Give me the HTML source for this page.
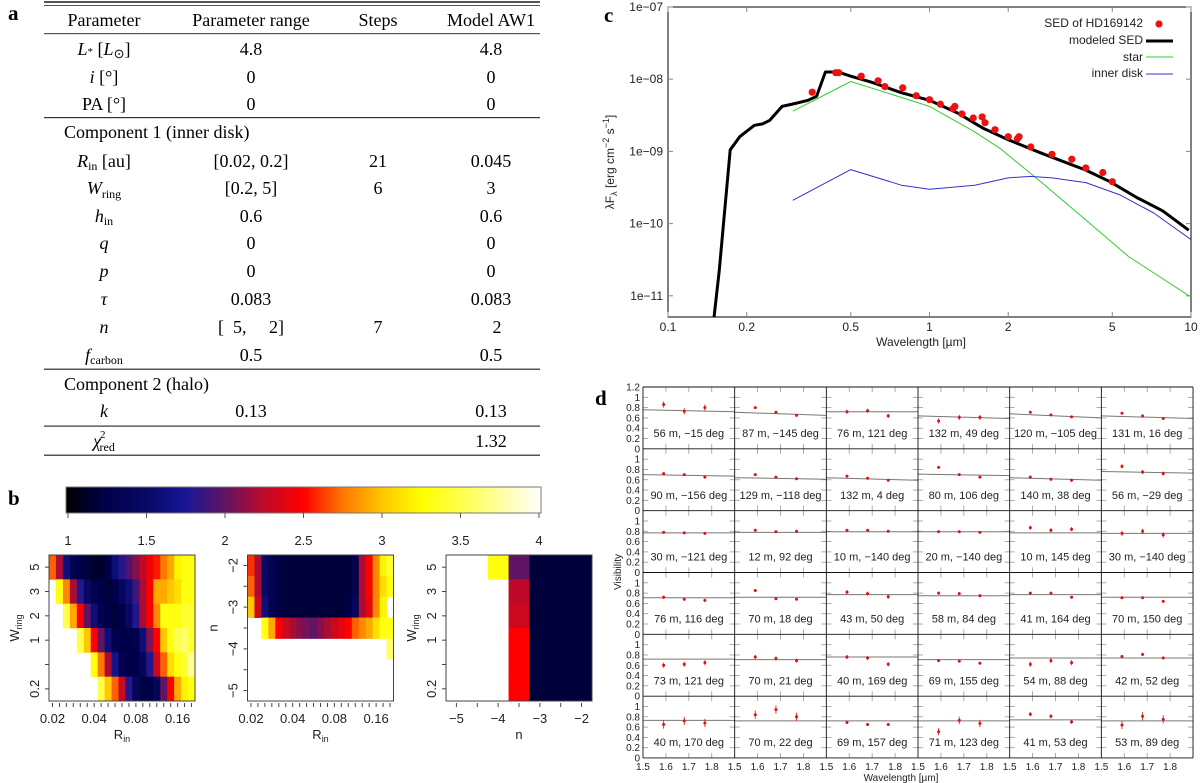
<!DOCTYPE html>
<html><head><meta charset="utf-8">
<style>
html,body{margin:0;padding:0;background:#fff;}
svg{display:block;}
.ser{font-family:"Liberation Serif",serif;}
.san{font-family:"Liberation Sans",sans-serif;}
</style></head>
<body>
<svg id="fig" width="1200" height="783" viewBox="0 0 1200 783" xmlns="http://www.w3.org/2000/svg">
<defs>
<clipPath id="sedclip"><rect x="668" y="7" width="523" height="310"/></clipPath>
</defs>
<g id="table" class="ser" font-size="18" fill="#000" text-anchor="middle">
<text x="8" y="20" font-weight="bold" font-size="21" text-anchor="start">a</text>
<rect x="44" y="1" width="496" height="2" fill="#555"/>
<rect x="44" y="5" width="496" height="1" fill="#555"/>
<rect x="44" y="33" width="496" height="1.2" fill="#555"/>
<rect x="44" y="117" width="496" height="1.2" fill="#333"/>
<rect x="44" y="368.5" width="496" height="1.5" fill="#555"/>
<rect x="44" y="425.5" width="496" height="1.2" fill="#333"/>
<rect x="44" y="454.5" width="496" height="1.5" fill="#555"/>
<g>
<text x="104" y="26">Parameter</text><text x="251" y="26">Parameter range</text><text x="378" y="26">Steps</text><text x="491" y="26">Model AW1</text>
</g>
<g><text x="104" y="55"><tspan font-style="italic">L</tspan><tspan font-size="11">*</tspan> [<tspan font-style="italic">L</tspan><tspan font-size="13" dy="3">⊙</tspan><tspan dy="-3">]</tspan></text><text x="251" y="55">4.8</text><text x="491" y="55">4.8</text></g>
<g><text x="104" y="83"><tspan font-style="italic">i</tspan> [°]</text><text x="251" y="83">0</text><text x="491" y="83">0</text></g>
<g><text x="104" y="110">PA [°]</text><text x="251" y="110">0</text><text x="491" y="110">0</text></g>
<text x="64" y="138" text-anchor="start">Component 1 (inner disk)</text>
<g><text x="104" y="167"><tspan font-style="italic">R</tspan><tspan font-size="12" dy="3">in</tspan><tspan dy="-3"> [au]</tspan></text><text x="251" y="167">[0.02,  0.2]</text><text x="378" y="167">21</text><text x="491" y="167">0.045</text></g>
<g><text x="104" y="194"><tspan font-style="italic">W</tspan><tspan font-size="12" dy="4">ring</tspan></text><text x="251" y="194">[0.2,  5]</text><text x="378" y="194">6</text><text x="491" y="194">3</text></g>
<g><text x="104" y="222"><tspan font-style="italic">h</tspan><tspan font-size="12" dy="3">in</tspan></text><text x="251" y="222">0.6</text><text x="491" y="222">0.6</text></g>
<g><text x="104" y="249" font-style="italic">q</text><text x="251" y="249">0</text><text x="491" y="249">0</text></g>
<g><text x="104" y="277" font-style="italic">p</text><text x="251" y="277">0</text><text x="491" y="277">0</text></g>
<g><text x="104" y="305" font-style="italic">τ</text><text x="251" y="305">0.083</text><text x="491" y="305">0.083</text></g>
<g><text x="104" y="333" font-style="italic">n</text><text x="251" y="333" xml:space="preserve">[  5,     2]</text><text x="378" y="333">7</text><text x="497" y="333">2</text></g>
<g><text x="104" y="361"><tspan font-style="italic">f</tspan><tspan font-size="12" dy="3">carbon</tspan></text><text x="251" y="361">0.5</text><text x="491" y="361">0.5</text></g>
<text x="64" y="390" text-anchor="start">Component 2 (halo)</text>
<g><text x="104" y="417" font-style="italic">k</text><text x="251" y="417">0.13</text><text x="491" y="417">0.13</text></g>
<g><text x="104" y="447"><tspan font-style="italic">χ</tspan><tspan font-size="11" dx="-1" dy="-9">2</tspan><tspan font-size="12" dx="-6" dy="13">red</tspan></text><text x="491" y="447">1.32</text></g>
</g>
<g id="panelB" class="san"></g>
<g id="panelC" class="san"></g>
<g id="panelD" class="san"></g>
</svg>
<script>
// ---------- Panel c data ----------
const sedModelLam = [0.15,0.157,0.173,0.188,0.214,0.23,0.245,0.273,0.306,0.343,0.37,0.40,0.447,0.50,0.60,0.78,1.0,1.28,1.6,2.0,2.71,3.96,4.9,6.2,7.8,9.8];
const sedModelFlux = [5.0e-12,2.2e-11,1.05e-9,1.6e-9,2.3e-9,2.4e-9,2.7e-9,4.2e-9,4.6e-9,5.1e-9,5.8e-9,1.26e-8,1.26e-8,1.1e-8,9.1e-9,6.5e-9,5.1e-9,3.4e-9,2.1e-9,1.45e-9,9.3e-10,5.5e-10,3.8e-10,2.3e-10,1.5e-10,8.1e-11];
const sedStarLam = [0.3,0.5,1.0,1.49,1.86,2.71,3.96,5.77,10];
const sedStarFlux = [3.6e-9,9.3e-9,4.2e-9,1.86e-9,1.1e-9,3.6e-10,1.12e-10,3.5e-11,9.6e-12];
const sedDiskLam = [0.3,0.5,0.78,1.0,1.49,2.0,2.43,2.94,3.96,5.35,7.2,10];
const sedDiskFlux = [2.1e-10,5.6e-10,3.4e-10,3.0e-10,3.4e-10,4.3e-10,4.5e-10,4.3e-10,3.7e-10,2.5e-10,1.4e-10,6.0e-11];
const sedObsLam = [0.356,0.438,0.45,0.548,0.636,0.675,0.79,0.89,1.0,1.1,1.23,1.25,1.33,1.47,1.59,1.63,1.78,2.0,2.17,2.2,2.44,2.94,3.5,3.96,4.6,5.0];
const sedObsFlux = [6.6e-9,1.23e-8,1.23e-8,1.1e-8,9.5e-9,7.9e-9,7.6e-9,5.9e-9,5.2e-9,4.5e-9,3.9e-9,4.2e-9,3.3e-9,2.9e-9,3.0e-9,2.5e-9,2.0e-9,1.6e-9,1.5e-9,1.6e-9,1.15e-9,9.1e-10,7.8e-10,5.9e-10,5.1e-10,3.8e-10];
const sedXTicks = [0.1,0.2,0.5,1,2,5,10];
const sedXTickLabels = ["0.1","0.2","0.5","1","2","5","10"];
const sedYTicks = [1e-7,1e-8,1e-9,1e-10,1e-11];
const sedYTickLabels = ["1e\u221207","1e\u221208","1e\u221209","1e\u221210","1e\u221211"];

// ---------- Panel b data ----------
const cbTicks = [1,1.5,2,2.5,3,3.5,4];
const cbTickLabels = ["1","1.5","2","2.5","3","3.5","4"];
const wringLabels = ["5","3","2","1","","0.2"];
const nRowLabels = ["\u22122","","\u22123","","\u22124","","\u22125"];
const nColLabels = ["\u22125","","\u22124","","\u22123","","\u22122"];
const rinLabels = {0:"0.02",6:"0.04",12:"0.08",18:"0.16"};
const N = null;
const chiRinW = [
 [2.7,2.2,1.6,1.35,1.25,1.2,1.15,1.15,1.25,1.6,1.8,1.95,2.1,2.25,2.45,2.55,2.75,2.9,3.2,3.3,3.3],
 [N,3.3,2.8,2.2,1.8,1.5,1.3,1.25,1.2,1.25,1.45,1.6,1.9,2.2,2.5,2.9,2.9,3.0,3.1,3.3,3.3],
 [N,N,3.5,2.9,2.5,2.0,1.6,1.3,1.25,1.2,1.25,1.5,1.8,2.2,2.5,2.8,3.3,3.3,3.3,3.4,3.4],
 [N,N,N,N,3.5,3.0,2.5,2.0,1.6,1.3,1.25,1.25,1.3,1.6,2.1,2.5,3.0,3.3,3.5,3.6,3.4],
 [N,N,N,N,N,N,3.3,2.75,2.2,1.7,1.3,1.25,1.25,1.4,1.8,2.3,2.7,3.1,3.3,3.4,3.7],
 [N,N,N,N,N,N,N,3.5,3.0,2.7,2.3,1.8,1.4,1.25,1.25,1.4,2.0,2.5,2.9,3.2,3.3]
];
const chiRinN = [
 [2.6,2.2,1.5,1.3,1.25,1.2,1.2,1.2,1.2,1.2,1.2,1.2,1.2,1.2,1.2,1.3,2.2,2.5,2.8,3.2,3.4],
 [2.7,2.2,1.5,1.3,1.25,1.2,1.2,1.2,1.2,1.2,1.2,1.2,1.2,1.2,1.2,1.3,2.2,2.5,2.8,3.1,3.3],
 [3.0,2.3,1.6,1.3,1.25,1.2,1.2,1.2,1.2,1.2,1.2,1.2,1.2,1.2,1.25,1.4,2.2,2.4,2.8,3.2,N],
 [N,N,3.3,2.9,2.5,2.3,2.2,2.1,2.05,2.0,2.1,2.2,2.3,2.4,2.5,2.7,2.8,2.9,3.1,3.3,3.3],
 [N,N,N,N,N,N,N,N,N,N,N,N,N,N,N,N,N,N,N,N,3.6],
 [N,N,N,N,N,N,N,N,N,N,N,N,N,N,N,N,N,N,N,N,N],
 [N,N,N,N,N,N,N,N,N,N,N,N,N,N,N,N,N,N,N,N,N]
];
const chiNW = [
 [N,N,3.3,2.0,1.2,1.2,1.2],
 [N,N,N,2.25,1.2,1.2,1.2],
 [N,N,N,2.3,1.2,1.2,1.2],
 [N,N,N,2.5,1.2,1.2,1.2],
 [N,N,N,2.5,1.2,1.2,1.2],
 [N,N,N,2.5,1.2,1.2,1.2]
];

// ---------- Panel d data ----------
const visLabels = ["56 m, \u221215 deg","87 m, \u2212145 deg","76 m, 121 deg","132 m, 49 deg","120 m, \u2212105 deg","131 m, 16 deg",
"90 m, \u2212156 deg","129 m, \u2212118 deg","132 m, 4 deg","80 m, 106 deg","140 m, 38 deg","56 m, \u221229 deg",
"30 m, \u2212121 deg","12 m, 92 deg","10 m, \u2212140 deg","20 m, \u2212140 deg","10 m, 145 deg","30 m, \u2212140 deg",
"76 m, 116 deg","70 m, 18 deg","43 m, 50 deg","58 m, 84 deg","41 m, 164 deg","70 m, 150 deg",
"73 m, 121 deg","70 m, 21 deg","40 m, 169 deg","69 m, 155 deg","54 m, 88 deg","42 m, 52 deg",
"40 m, 170 deg","70 m, 22 deg","69 m, 157 deg","71 m, 123 deg","41 m, 53 deg","53 m, 89 deg"];
const visLam = [1.59,1.68,1.77];
const visObs = [
 [0.86,0.73,0.80],[0.80,0.71,0.65],[0.72,0.74,0.64],[0.54,0.61,0.61],[0.71,0.66,0.62],[0.69,0.64,0.59],
 [0.72,0.70,0.65],[0.70,0.65,0.62],[0.67,0.63,0.59],[0.84,0.70,0.65],[0.65,0.61,0.59],[0.86,0.75,0.72],
 [0.78,0.77,0.76],[0.82,0.79,0.80],[0.82,0.82,0.80],[0.79,0.79,0.78],[0.87,0.82,0.84],[0.76,0.80,0.73],
 [0.72,0.68,0.66],[0.85,0.69,0.68],[0.82,0.79,0.73],[0.80,0.79,0.75],[0.80,0.80,0.72],[0.71,0.71,0.64],
 [0.60,0.62,0.65],[0.76,0.73,0.69],[0.76,0.74,0.62],[0.69,0.68,0.64],[0.62,0.69,0.65],[0.77,0.81,0.74],
 [0.65,0.72,0.68],[0.84,0.94,0.80],[0.69,0.65,0.65],[0.51,0.73,0.67],[0.85,0.81,0.70],[0.64,0.81,0.75]];
const visErr = [0.06,0.02,0.04,0.05,0.02,0.02, 0.02,0.02,0.02,0.02,0.03,0.04, 0.02,0.02,0.02,0.02,0.04,0.05,
 0.03,0.02,0.04,0.03,0.02,0.02, 0.05,0.04,0.04,0.02,0.05,0.03, 0.08,0.08,0.03,0.07,0.04,0.08];
const visModelStart = [0.76,0.71,0.72,0.64,0.68,0.64, 0.70,0.64,0.64,0.71,0.64,0.76, 0.77,0.78,0.79,0.79,0.77,0.76,
 0.71,0.72,0.77,0.75,0.77,0.72, 0.72,0.71,0.76,0.71,0.74,0.74, 0.73,0.72,0.72,0.72,0.74,0.72];
const visModelEnd = [0.72,0.65,0.72,0.59,0.60,0.59, 0.67,0.61,0.59,0.68,0.59,0.73, 0.77,0.78,0.79,0.79,0.77,0.76,
 0.71,0.72,0.77,0.75,0.77,0.72, 0.72,0.71,0.76,0.71,0.74,0.74, 0.73,0.72,0.72,0.72,0.74,0.72];
const visYTicks = [0,0.2,0.4,0.6,0.8,1];
const visYTickLabels = ["0","0.2","0.4","0.6","0.8","1"];
const visXTicks = [1.5,1.6,1.7,1.8];
const visXTickLabels = ["1.5","1.6","1.7","1.8"];

const NS = "http://www.w3.org/2000/svg";
function mk(parent, tag, attrs, txt){
  const el = document.createElementNS(NS, tag);
  for (const k in attrs) el.setAttribute(k, attrs[k]);
  if (txt !== undefined) el.textContent = txt;
  parent.appendChild(el);
  return el;
}

const cmStops = [[1.0,0,0,0],[1.12,0,0,35],[1.25,0,0,72],[1.5,8,8,100],[1.75,22,22,150],[2.0,95,20,100],[2.25,190,10,40],[2.5,255,0,0],[2.75,255,120,0],[3.0,255,200,0],[3.25,255,255,0],[3.6,255,255,110],[4.0,255,255,255]];
function heat(v){
  v = Math.max(1, Math.min(4, v));
  for (let i=0;i<cmStops.length-1;i++){
    const a=cmStops[i], b=cmStops[i+1];
    if (v<=b[0]){ const t=(v-a[0])/(b[0]-a[0]);
      return "rgb("+[1,2,3].map(j=>Math.round(a[j]+(b[j]-a[j])*t)).join(",")+")"; }
  }
  return "#fff";
}

// ---------- Panel c ----------
(function(){
  const g = document.getElementById("panelC");
  const X0=668, X1=1191, Y0=7, Y1=317;
  const xs = l => X0 + (Math.log10(l)+1)/2*(X1-X0);
  const ys = f => 7 + (-7 - Math.log10(f))*72.2;
  let el;
  el = mk(g,"text",{x:604,y:22,"font-family":"Liberation Serif, serif","font-weight":"bold","font-size":21},"c");
  
  
  el = mk(g,"rect",{x:X0,y:Y0,width:X1-X0,height:Y1-Y0,fill:"none",stroke:"#000","stroke-width":1});
  
  
  sedXTicks.forEach((t,i)=>{
    const x = xs(t);
    el = mk(g,"line",{x1:x,x2:x,y1:Y1,y2:Y1-5,stroke:"#888"});
    
    
    el = mk(g,"line",{x1:x,x2:x,y1:Y0,y2:Y0+5,stroke:"#888"});
    
    
    el = mk(g,"text",{x:x,y:331,"font-size":12,"text-anchor":"middle",fill:"#222"},sedXTickLabels[i]);
    
    
  });
  sedYTicks.forEach((t,i)=>{
    const y = ys(t);
    el = mk(g,"line",{x1:X0,x2:X0+5,y1:y,y2:y,stroke:"#888"});
    
    
    el = mk(g,"line",{x1:X1,x2:X1-5,y1:y,y2:y,stroke:"#888"});
    
    
    el = mk(g,"text",{x:663,y:y+4,"font-size":12,"text-anchor":"end",fill:"#222"},sedYTickLabels[i]);
    
    
  });
  el = mk(g,"text",{x:921,y:346,"font-size":12,"text-anchor":"middle",fill:"#222"},"Wavelength [\u00b5m]");
  
  
  el = mk(g,"text",{transform:"translate(614,162) rotate(-90)","font-size":12,"text-anchor":"middle",fill:"#222"});
  
  
  el.innerHTML = 'λF<tspan font-size="9" dy="3">λ</tspan><tspan dy="-3"> [erg cm</tspan><tspan font-size="9" dy="-5">\u22122</tspan><tspan dy="5"> s</tspan><tspan font-size="9" dy="-5">\u22121</tspan><tspan dy="5">]</tspan>';
  const cg = mk(g,"g",{"clip-path":"url(#sedclip)"});
  
  
  function line(lam, flux, color, w, name){
    const d = lam.map((l,i)=>(i?"L":"M")+xs(l).toFixed(1)+","+ys(flux[i]).toFixed(1)).join(" ");
    const p = mk(cg,"path",{d:d,fill:"none",stroke:color,"stroke-width":w,"stroke-linejoin":"round"});
    
    
  }
  line(sedStarLam, sedStarFlux, "#33cc33", 1, "star-line");
  line(sedDiskLam, sedDiskFlux, "#3333cc", 1, "inner-disk-line");
  line(sedModelLam, sedModelFlux, "#000", 3, "modeled-sed-line");
  sedObsLam.forEach((l,i)=>{
    const c = mk(cg,"circle",{cx:xs(l),cy:ys(sedObsFlux[i]),r:3.6,fill:"#ee1111"});
    
    
  });
  const lg = mk(g,"g",{"font-size":12,fill:"#222"});
  
  
  const entries = [["SED of HD169142",27],["modeled SED",44],["star",61],["inner disk",77]];
  entries.forEach((e,i)=>{
    el = mk(lg,"text",{x:1143,y:e[1],"text-anchor":"end"},e[0]);
    
    
  });
  el = mk(lg,"circle",{cx:1159,cy:24,r:3.6,fill:"#ee1111"});
  
  
  el = mk(lg,"line",{x1:1146,x2:1173,y1:41,y2:41,stroke:"#000","stroke-width":3});
  
  
  el = mk(lg,"line",{x1:1146,x2:1173,y1:57,y2:57,stroke:"#33cc33"});
  
  
  el = mk(lg,"line",{x1:1146,x2:1173,y1:74,y2:74,stroke:"#3333cc"});
  
  
})();

// ---------- Panel b ----------
(function(){
  const g = document.getElementById("panelB");
  let el;
  el = mk(g,"text",{x:8,y:505,"font-family":"Liberation Serif, serif","font-weight":"bold","font-size":21},"b");
  
  
  const CB0=66, CB1=541;
  const cbx = v => 68 + (v-1)/3*(CB1-2-68);
  for (let i=0;i<150;i++){
    const v = 1 + 3*i/150;
    el = mk(g,"rect",{x:(CB0+i*(CB1-CB0)/150).toFixed(2),y:487,width:((CB1-CB0)/150+0.6).toFixed(2),height:26,fill:heat(v+0.01)});
    
    
  }
  el = mk(g,"rect",{x:CB0,y:487,width:CB1-CB0,height:26,fill:"none",stroke:"#777"});
  
  
  cbTicks.forEach((t,i)=>{
    el = mk(g,"line",{x1:cbx(t),x2:cbx(t),y1:513,y2:518,stroke:"#555"});
    
    
    el = mk(g,"text",{x:cbx(t),y:545,"font-size":13,"text-anchor":"middle",fill:"#222"},cbTickLabels[i]);
    
    
  });

  function heatmap(x0, data, name, yLabels, xLabelFn, xTitle, yTitle){
    const Y0=555, H=146, W=146;
    const nr=data.length, nc=data[0].length;
    const cw=W/nc, ch=H/nr;
    const hg = mk(g,"g",{});
    
    
    data.forEach((row,r)=>row.forEach((v,c)=>{
      if (v===null) return;
      const cell = mk(hg,"rect",{x:(x0+c*cw).toFixed(2),y:(Y0+r*ch).toFixed(2),width:(cw+0.4).toFixed(2),height:(ch+0.4).toFixed(2),fill:heat(v)});
      
      
    }));
    el = mk(hg,"rect",{x:x0,y:Y0,width:W,height:H,fill:"none",stroke:"#444"});
    
    
    for (let r=0;r<nr;r++){
      const y=Y0+(r+0.5)*ch;
      el = mk(hg,"line",{x1:x0-4,x2:x0,y1:y,y2:y,stroke:"#444"});
      
      
      if (yLabels[r]){
        el = mk(hg,"text",{transform:"translate("+(x0-10)+","+y+") rotate(-90)","font-size":13,"text-anchor":"middle",fill:"#222"},yLabels[r]);
        
        
      }
    }
    for (let c=0;c<nc;c++){
      const x=x0+(c+0.5)*cw;
      el = mk(hg,"line",{x1:x,x2:x,y1:Y0+H+2,y2:Y0+H+6,stroke:"#444"});
      
      
      const lab = xLabelFn(c);
      if (lab){
        el = mk(hg,"text",{x:x,y:723,"font-size":13,"text-anchor":"middle",fill:"#222"},lab);
        
        
      }
    }
    el = mk(hg,"text",{x:x0+W/2,y:739,"font-size":13,"text-anchor":"middle",fill:"#222"});
    
    
    el.innerHTML = xTitle;
    el = mk(hg,"text",{transform:"translate("+(x0-30)+","+(Y0+H/2)+") rotate(-90)","font-size":13,"text-anchor":"middle",fill:"#222"});
    
    
    el.innerHTML = yTitle;
  }
  const rinT = 'R<tspan font-size="9" dy="3">in</tspan>';
  const wT = 'W<tspan font-size="9" dy="3">ring</tspan>';
  heatmap(49, chiRinW, "heatmap-rin-wring", wringLabels, c=>rinLabels[c], rinT, wT);
  heatmap(247.5, chiRinN, "heatmap-rin-n", nRowLabels, c=>rinLabels[c], rinT, "n");
  heatmap(446, chiNW, "heatmap-n-wring", wringLabels, c=>nColLabels[c], "n", wT);
})();

// ---------- Panel d ----------
(function(){
  const g = document.getElementById("panelD");
  const GX=643, GY=387, CW=91.67, CH=61.83, PX=51.5;
  let el;
  el = mk(g,"text",{x:595,y:405,"font-family":"Liberation Serif, serif","font-weight":"bold","font-size":21},"d");
  
  
  for (let idx=0; idx<36; idx++){
    const r=Math.floor(idx/6), c=idx%6;
    const x0=GX+c*CW, y0=GY+r*CH;
    const xs = l => x0 + (l-1.5)/0.4*CW;
    const ys = v => y0 + CH - v*PX;
    const cg = mk(g,"g",{});
    
    
    [0.2,0.4,0.6,0.8,1.0].forEach(v=>{
      el = mk(cg,"line",{x1:x0,x2:x0+5,y1:ys(v),y2:ys(v),stroke:"#999","stroke-width":0.8});
      
      
      el = mk(cg,"line",{x1:x0+CW,x2:x0+CW-5,y1:ys(v),y2:ys(v),stroke:"#999","stroke-width":0.8});
      
      
    });
    [1.6,1.7,1.8].forEach(l=>{
      el = mk(cg,"line",{x1:xs(l),x2:xs(l),y1:y0,y2:y0+5,stroke:"#999","stroke-width":0.8});
      
      
      el = mk(cg,"line",{x1:xs(l),x2:xs(l),y1:y0+CH,y2:y0+CH-5,stroke:"#999","stroke-width":0.8});
      
      
    });
    el = mk(cg,"line",{x1:xs(1.5),x2:xs(1.9),y1:ys(visModelStart[idx]),y2:ys(visModelEnd[idx]),stroke:"#777","stroke-width":1});
    
    
    visLam.forEach((l,k)=>{
      const v = visObs[idx][k], e = visErr[idx];
      el = mk(cg,"line",{x1:xs(l),x2:xs(l),y1:ys(v-e),y2:ys(v+e),stroke:"#dd2222","stroke-width":0.9});
      
      
      el = mk(cg,"circle",{cx:xs(l),cy:ys(v),r:1.5,fill:"#dd1111"});
      
      
    });
    el = mk(cg,"text",{x:x0+CW/2,y:y0+50,"font-size":11,"text-anchor":"middle",fill:"#222"},visLabels[idx]);
    
    
  }
  for (let i=0;i<=6;i++){
    el = mk(g,"line",{x1:GX+i*CW,x2:GX+i*CW,y1:GY,y2:GY+6*CH,stroke:"#111","stroke-width":0.9});
    
    
    el = mk(g,"line",{x1:GX,x2:GX+6*CW,y1:GY+i*CH,y2:GY+i*CH,stroke:"#111","stroke-width":0.9});
    
    
  }
  for (let r=0;r<6;r++){
    const y0=GY+r*CH;
    visYTicks.forEach((v,i)=>{
      el = mk(g,"text",{x:640,y:y0+CH-v*PX+3.5,"font-size":10,"text-anchor":"end",fill:"#222"},visYTickLabels[i]);
      
      
    });
  }
  el = mk(g,"text",{x:640,y:GY+3.5,"font-size":10,"text-anchor":"end",fill:"#222"},"1.2");
  
  
  for (let c=0;c<6;c++){
    visXTicks.forEach((l,i)=>{
      el = mk(g,"text",{x:GX+c*CW+(l-1.5)/0.4*CW,y:770,"font-size":10,"text-anchor":"middle",fill:"#222"},visXTickLabels[i]);
      
      
    });
  }
  el = mk(g,"text",{x:901,y:781,"font-size":10,"text-anchor":"middle",fill:"#222"},"Wavelength [\u00b5m]");
  
  
  el = mk(g,"text",{transform:"translate(621,572) rotate(-90)","font-size":10,"text-anchor":"middle",fill:"#222"},"Visibility");
  
  
})();
</script>
</body></html>
